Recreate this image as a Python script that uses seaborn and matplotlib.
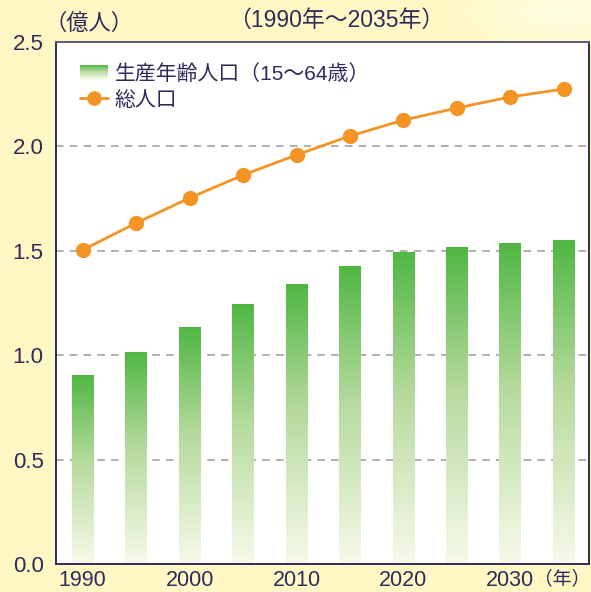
import numpy as np
import pandas as pd
import matplotlib
matplotlib.use("Agg")
import matplotlib.pyplot as plt
import matplotlib.transforms as mtransforms
import seaborn as sns
from matplotlib.colors import LinearSegmentedColormap, to_rgb
from matplotlib.legend_handler import HandlerBase
from matplotlib.patches import Rectangle
from matplotlib.lines import Line2D

# ---- data ----
years = ["1990", "1995", "2000", "2005", "2010", "2015", "2020", "2025", "2030", "2035"]
working_age = [0.905, 1.015, 1.135, 1.245, 1.340, 1.427, 1.490, 1.518, 1.537, 1.547]
total_pop = [1.504, 1.633, 1.753, 1.863, 1.959, 2.050, 2.126, 2.184, 2.237, 2.275]
x_tick_labels = ["1990", "", "2000", "", "2010", "", "2020", "", "2030", ""]
x_unit_text = "（年）"
y_ticks = [0.0, 0.5, 1.0, 1.5, 2.0, 2.5]
title_text = "（1990年～2035年）"
unit_text = "（億人）"
legend_labels = ["生産年齢人口（15～64歳）", "総人口"]

NAVY = "#2e2b5c"
ORANGE = "#f39424"
BG = "#fff8c5"
grad = LinearSegmentedColormap.from_list(
    "g", [(0.0, "#50b744"), (0.45, "#b5da9c"), (1.0, "#f7faea")])

sns.set_theme(style="white")
plt.rcParams["font.family"] = ["Liberation Sans", "Noto Sans CJK JP", "DejaVu Sans"]
plt.rcParams["text.color"] = NAVY

fig = plt.figure(figsize=(5.91, 5.92), dpi=100, facecolor=BG)

# soft background glow at top right
bgax = fig.add_axes([0, 0, 1, 1], zorder=-10)
H, W = 296, 296
yy, xx = np.mgrid[0:H, 0:W]
d = np.sqrt(((xx - 280) / 60.0) ** 2 + ((yy - 5) / 25.0) ** 2)
alpha = np.clip(1 - d, 0, 1) * 0.6
base = np.array(to_rgb(BG))
img = base[None, None, :] * (1 - alpha[..., None]) + np.array([1, 1, 0.95])[None, None, :] * alpha[..., None]
bgax.imshow(img, extent=[0, 1, 0, 1], aspect="auto", origin="upper")
bgax.set_axis_off()

ax = fig.add_axes([56 / 591, 1 - 564 / 592, 533 / 591, (564 - 42) / 592])
ax.set_facecolor("white")

df = pd.DataFrame({"year": years, "working": working_age, "total": total_pop})

sns.barplot(data=df, x="year", y="working", ax=ax, width=0.41, color="#50b744",
            saturation=1, zorder=2)

gimg = np.linspace(0, 1, 256).reshape(-1, 1)
for p in list(ax.patches):
    x0, w, h = p.get_x(), p.get_width(), p.get_height()
    ax.imshow(gimg, cmap=grad, extent=[x0, x0 + w, 0, h], aspect="auto",
              origin="upper", zorder=2, interpolation="bilinear")
    p.set_visible(False)

sns.pointplot(data=df, x="year", y="total", ax=ax, color=ORANGE, markers="o",
              linestyles="-", markersize=9.5, linewidth=2.0, zorder=4)

ax.set_xlim(-0.5, 9.47)
ax.set_ylim(0, 2.5)
ax.set_aspect("auto")

ax.set_yticks(y_ticks)
ax.set_yticklabels([f"{v:.1f}" for v in y_ticks])
ax.set_xticks(range(len(years)))
ax.set_xticklabels(x_tick_labels)
ax.set_xticks([1.5, 3.5, 5.5, 7.5], minor=True)
ax.tick_params(axis="y", which="major", length=0, labelsize=16, colors=NAVY, pad=9)
ax.tick_params(axis="x", which="major", length=0, labelsize=15.5, colors=NAVY, pad=4)
ax.tick_params(axis="x", which="minor", direction="in", length=6, width=1.2, color=NAVY)
ax.set_xlabel("")
ax.set_ylabel("")

for v in [0.5, 1.0, 1.5, 2.0]:
    ax.axhline(v, color="#9a9a9a", lw=1.1, ls=(0, (5, 4)), zorder=1)

for s in ["left", "bottom", "right"]:
    ax.spines[s].set_color(NAVY)
    ax.spines[s].set_linewidth(1.4)
ax.spines["top"].set_color("#5c5a7c")
ax.spines["top"].set_linewidth(1.4)

# unit label at the right end of the x axis
tr = mtransforms.offset_copy(ax.transAxes, fig=fig, x=0.8, y=-4.5, units="points")
ax.text(1.0, 0.0, x_unit_text, transform=tr, ha="right", va="top",
        fontsize=13.5, color=NAVY)


class HandlerGradient(HandlerBase):
    def create_artists(self, legend, orig_handle, xdescent, ydescent, width,
                       height, fontsize, trans):
        n = 24
        arts = []
        for i in range(n):
            c = grad(i / (n - 1))
            r = Rectangle((-xdescent, -ydescent + height * (1 - (i + 1) / n)),
                          width, height / n + 0.3, facecolor=c, edgecolor="none",
                          transform=trans)
            arts.append(r)
        return arts


bar_handle = Rectangle((0, 0), 1, 1)
line_handle = Line2D([], [], color=ORANGE, lw=2.0, marker="o", markersize=9.5)
leg = ax.legend([bar_handle, line_handle], legend_labels,
                handler_map={Rectangle: HandlerGradient()},
                loc="upper left", bbox_to_anchor=(0.022, 0.982), frameon=False,
                fontsize=15, handlelength=1.35, handleheight=0.7,
                handletextpad=0.3, labelspacing=0.33, borderaxespad=0.2)
for t in leg.get_texts():
    t.set_color(NAVY)

fig.text(336 / 591, 1 - 20 / 592, title_text, ha="center", va="center",
         fontsize=16.5, color=NAVY)
fig.text(89 / 591, 1 - 24 / 592, unit_text, ha="center", va="center",
         fontsize=16, color=NAVY)

fig.savefig("out.png", dpi=100, facecolor=BG)
